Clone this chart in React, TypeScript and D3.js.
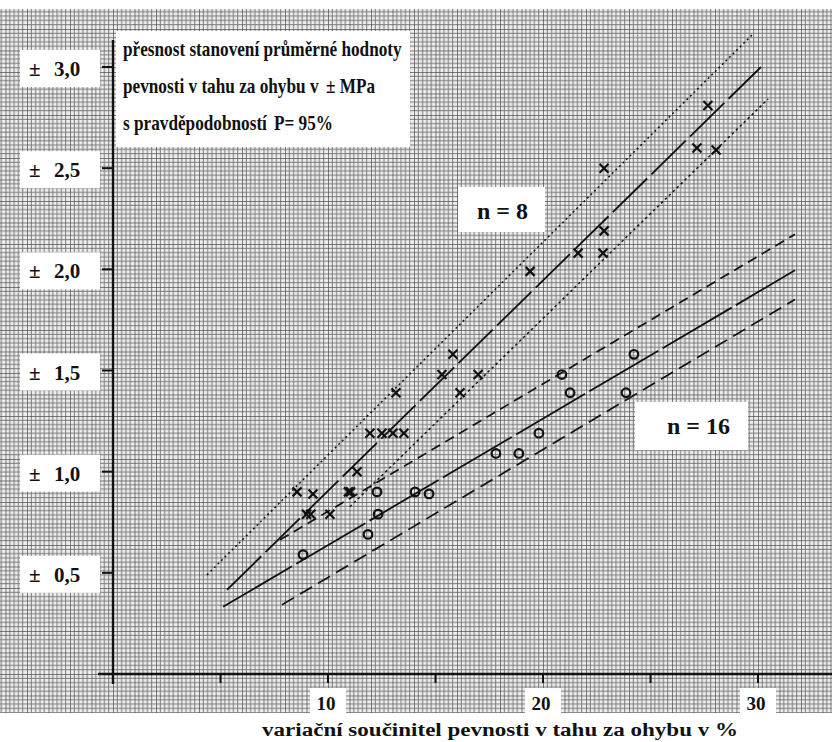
import React from "react";
import * as d3 from "d3";

// n = 8 (crosses) and n = 16 (circles)
const crossPoints: [number, number][] = [
  [8.56, 0.9], [9.3, 0.89], [9.0, 0.79], [9.2, 0.79], [10.09, 0.79],
  [10.95, 0.9], [11.05, 0.9], [11.35, 1.0],
  [11.95, 1.19], [12.51, 1.19], [13.02, 1.19], [13.53, 1.19],
  [13.16, 1.39], [15.3, 1.48], [16.98, 1.48], [16.14, 1.39], [15.81, 1.58],
  [19.4, 1.99], [21.63, 2.08], [22.79, 2.08], [22.84, 2.19], [22.84, 2.5],
  [27.16, 2.6], [28.05, 2.59], [27.67, 2.81]
];
const circlePoints: [number, number][] = [
  [8.84, 0.59], [11.86, 0.69], [12.33, 0.79], [12.28, 0.9], [14.05, 0.9],
  [14.7, 0.89], [17.81, 1.09], [18.88, 1.09], [19.81, 1.19], [20.88, 1.48],
  [21.26, 1.39], [23.86, 1.39], [24.23, 1.58]
];

const n8Center: [number, number][] = [[5.3, 0.416], [30.14, 3.0]];
const n8Upper: [number, number][] = [[4.37, 0.49], [29.77, 3.163]];
const n8Lower: [number, number][] = [[11.02, 0.827], [30.47, 2.842]];
const n16Center: [number, number][] = [[5.12, 0.332], [31.72, 1.995]];
const n16Upper: [number, number][] = [[7.77, 0.663], [31.72, 2.173]];
const n16Lower: [number, number][] = [[7.86, 0.342], [31.72, 1.851]];

const yTicks = [0.5, 1.0, 1.5, 2.0, 2.5, 3.0];
const yTickLabels = ["0,5", "1,0", "1,5", "2,0", "2,5", "3,0"];
const xTicks = [5, 10, 15, 20, 25, 30];
const xLabelTicks = [10, 20, 30];

// title pieces: [text, x in px]
const titleLines: [string, number][][] = [
  [["přesnost stanovení průměrné hodnoty", 123]],
  [["pevnosti v tahu za ohybu v", 123], ["± MPa", 326]],
  [["s pravděpodobností", 123], ["P= 95%", 274]]
];
const xTitle = "variační součinitel pevnosti v tahu za ohybu v %";

const W = 832, H = 742;
const font = "'Liberation Serif', 'Times New Roman', serif";

export default function App() {
  const x = d3.scaleLinear().domain([0, 30]).range([113, 758]);
  const y = d3.scaleLinear().domain([0, 3]).range([674, 67]);
  const line = d3.line<[number, number]>().x(d => x(d[0])).y(d => y(d[1]));

  const cell = (x(1) - x(0)); // one square of the paper
  const fine = cell / 5;
  const squeeze = 0.82;

  const lines = [
    { d: n8Upper, dash: "2 3", w: 1.5 },
    { d: n8Center, dash: "48 6", w: 1.8 },
    { d: n8Lower, dash: "2.5 3", w: 1.5 },
    { d: n16Upper, dash: "10 6", w: 1.7 },
    { d: n16Center, dash: "80 5", w: 1.8 },
    { d: n16Lower, dash: "14 7", w: 1.7 }
  ];

  return (
    <svg width={W} height={H} style={{ display: "block", background: "#fff" }}>
      <style>{`body{margin:0}`}</style>
      <defs>
        <pattern id="paper" patternUnits="userSpaceOnUse" width={cell} height={cell}
          x={x(0)} y={y(0)}>
          <rect width={cell} height={cell} fill="#eeeeee" />
          {d3.range(1, 5).map(i => (
            <g key={i}>
              <line x1={i * fine} x2={i * fine} y1={0} y2={cell} stroke="#7a7a7a" strokeWidth={1} />
              <line y1={i * fine} y2={i * fine} x1={0} x2={cell} stroke="#7a7a7a" strokeWidth={1} />
            </g>
          ))}
          <line x1={0} x2={0} y1={0} y2={cell} stroke="#4a4a4a" strokeWidth={1.4} />
          <line y1={0} y2={0} x1={0} x2={cell} stroke="#4a4a4a" strokeWidth={1.4} />
        </pattern>
      </defs>

      <rect x={0} y={9} width={W} height={704} fill="url(#paper)" />

      {/* title box */}
      <rect x={116} y={31} width={294} height={116} fill="#fff" />
      <g transform={`scale(${squeeze},1)`}>
        {titleLines.map((parts, i) => parts.map(([t, px], j) => (
          <text key={i + "-" + j} x={px / squeeze} y={56 + i * 37} fontFamily={font}
            fontWeight="bold" fontSize={21} fill="#111">{t}</text>
        )))}
      </g>

      {/* y tick labels */}
      {yTicks.map((v, i) => (
        <g key={v}>
          <rect x={20} y={y(v) - 17} width={80} height={37} fill="#fff" />
          <text y={y(v) + 9} fontFamily={font} fontWeight="bold" fontSize={21} fill="#111">
            <tspan x={29}>±</tspan>
            <tspan x={54}>{yTickLabels[i]}</tspan>
          </text>
          <line x1={102} x2={x(0)} y1={y(v)} y2={y(v)} stroke="#111" strokeWidth={2} />
        </g>
      ))}

      {/* x tick labels */}
      {xLabelTicks.map(v => (
        <g key={v}>
          <rect x={x(v) - 18} y={688} width={36} height={26} fill="#fff" />
          <text x={x(v) - 2} y={710} textAnchor="middle" fontFamily={font} fontWeight="bold"
            fontSize={19} fill="#111">{v}</text>
        </g>
      ))}
      {xTicks.map(v => (
        <line key={v} x1={x(v)} x2={x(v)} y1={y(0)} y2={y(0) + 9} stroke="#111" strokeWidth={2} />
      ))}

      {/* axes */}
      <line x1={98} x2={W} y1={y(0)} y2={y(0)} stroke="#111" strokeWidth={2.4} />
      <line x1={x(0)} x2={x(0)} y1={40} y2={684} stroke="#111" strokeWidth={2.4} />

      {/* n labels */}
      <rect x={458} y={187} width={87} height={45} fill="#fff" />
      <text x={477} y={219} fontFamily={font} fontWeight="bold" fontSize={24} fill="#111">n = 8</text>
      <rect x={635} y={402} width={113} height={48} fill="#fff" />
      <text x={667} y={434} fontFamily={font} fontWeight="bold" fontSize={24} fill="#111">n = 16</text>

      {/* lines */}
      {lines.map((l, i) => (
        <path key={i} d={line(l.d) || ""} fill="none" stroke="#111" strokeWidth={l.w}
          strokeDasharray={l.dash} />
      ))}

      {/* markers */}
      {crossPoints.map((p, i) => {
        const cx = x(p[0]), cy = y(p[1]);
        return (
          <g key={i} stroke="#111" strokeWidth={2.2}>
            <line x1={cx - 4.5} x2={cx + 4.5} y1={cy - 4.5} y2={cy + 4.5} />
            <line x1={cx - 4.5} x2={cx + 4.5} y1={cy + 4.5} y2={cy - 4.5} />
          </g>
        );
      })}
      {circlePoints.map((p, i) => (
        <circle key={i} cx={x(p[0])} cy={y(p[1])} r={4.3} fill="none" stroke="#111" strokeWidth={2.2} />
      ))}

      {/* x title */}
      <text x={262} y={736} fontFamily={font} fontWeight="bold" fontSize={18} fill="#111"
        textLength={476} lengthAdjust="spacingAndGlyphs">{xTitle}</text>
    </svg>
  );
}
